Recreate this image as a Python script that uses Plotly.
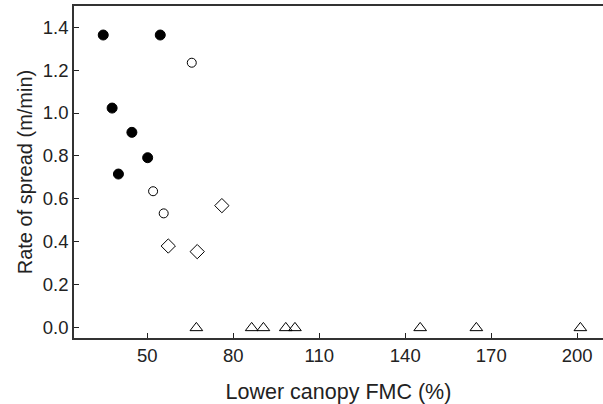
import plotly.graph_objects as go

# Filled circles
fc_x = [34.6, 54.5, 37.7, 44.6, 50.1, 39.9]
fc_y = [1.363, 1.363, 1.023, 0.910, 0.792, 0.716]
# Open circles
oc_x = [65.5, 52.0, 55.7]
oc_y = [1.234, 0.636, 0.533]
# Diamonds
dm_x = [57.3, 67.4, 76.0]
dm_y = [0.381, 0.355, 0.569]
# Triangles
tr_x = [67.1, 86.4, 90.5, 98.3, 101.5, 145.2, 164.8, 201.1]
tr_y = [0, 0, 0, 0, 0, 0, 0, 0]

x_ticks = [50, 80, 110, 140, 170, 200]
y_ticks = [0.0, 0.2, 0.4, 0.6, 0.8, 1.0, 1.2, 1.4]

fig = go.Figure()
fig.add_trace(go.Scatter(x=fc_x, y=fc_y, mode="markers",
                         marker=dict(symbol="circle", size=10, color="black",
                                     line=dict(color="black", width=1))))
fig.add_trace(go.Scatter(x=oc_x, y=oc_y, mode="markers",
                         marker=dict(symbol="circle-open", size=9, color="black",
                                     line=dict(color="black", width=1))))
fig.add_trace(go.Scatter(x=dm_x, y=dm_y, mode="markers",
                         marker=dict(symbol="diamond-open", size=11, color="black",
                                     line=dict(color="black", width=1))))
fig.add_trace(go.Scatter(x=tr_x, y=tr_y, mode="markers",
                         marker=dict(symbol="triangle-up-open", size=11, color="black",
                                     line=dict(color="black", width=1))))

fig.update_layout(
    width=603, height=404,
    margin=dict(l=74, r=0, t=6, b=66),
    paper_bgcolor="white", plot_bgcolor="white",
    showlegend=False,
    font=dict(family="Liberation Sans, Arial, sans-serif", color="#222", size=18),
)
fig.update_xaxes(
    range=[24.4, 209], tickvals=x_ticks, ticktext=[str(v) for v in x_ticks],
    ticks="inside", ticklen=5, tickwidth=1, tickcolor="#222",
    showline=True, linecolor="#333", linewidth=1.5, mirror=True,
    showgrid=False, zeroline=False, automargin=False,
    title=dict(text="Lower canopy FMC (%)", font=dict(size=21.5), standoff=21),
    tickfont=dict(size=18.5),
)
fig.update_yaxes(
    range=[-0.047, 1.498], tickvals=y_ticks, ticktext=[f"{v:.1f}" for v in y_ticks],
    ticks="inside", ticklen=5, tickwidth=1, tickcolor="#222",
    showline=True, linecolor="#333", linewidth=1.5,
    showgrid=False, zeroline=False, automargin=False,
    title=dict(text="Rate of spread (m/min)", font=dict(size=20), standoff=5),
    tickfont=dict(size=18.5),
)

fig.write_html("out.html", config={"displayModeBar": False},
               post_script="document.body.style.margin='0';")
